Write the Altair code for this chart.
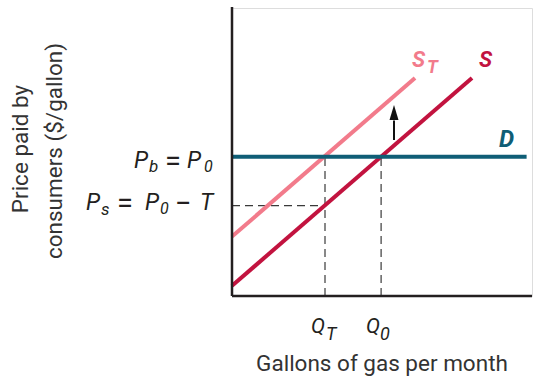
import altair as alt
import pandas as pd

# Market for gasoline with a per-gallon tax on sellers.
# Quantity runs 0-100, price runs 0-96 (arbitrary units).
P0 = 46.4          # price paid by buyers (P_b = P_0)
PS = 30.1          # price received by sellers (P_s = P_0 - T)
Q0 = 49.7          # quantity without the tax
QT = 31.0          # quantity with the tax

supply_q = [0, 80]
supply_p = [3.4, 72.7]
taxed_supply_q = [0, 61]
taxed_supply_p = [19.8, 72.7]
demand_q = [0, 98.2]
demand_p = [P0, P0]
arrow_q = [54, 54]
arrow_p = [52.0, 58.5]
arrow_head_p = 61.2

Q_MAX = 100
P_MAX = 96

LEFT, TOP = 232, 8
WIDTH, HEIGHT = 300, 288

INK = "#231f20"
PINK = "#f27b8b"
CRIMSON = "#c2133f"
TEAL = "#0f5e76"
EQ_FONT = "Roboto"
TITLE_FONT = "Roboto"

xs = alt.Scale(domain=[0, Q_MAX], nice=False, zero=False)
ys = alt.Scale(domain=[0, P_MAX], nice=False, zero=False)


def X(field="q"):
    return alt.X(f"{field}:Q", scale=xs, axis=None)


def Y(field="p"):
    return alt.Y(f"{field}:Q", scale=ys, axis=None)


def curve(qs, ps, color, width=4):
    df = pd.DataFrame({"q": qs, "p": ps})
    return alt.Chart(df).mark_line(color=color, strokeWidth=width, strokeCap="butt").encode(
        x=X(), y=Y(), order="q:Q")


# axes drawn as plain rules
y_axis = alt.Chart(pd.DataFrame({"q": [0], "p": [0], "p2": [96.3]})).mark_rule(
    color=INK, strokeWidth=2.5).encode(x=X(), y=Y(), y2="p2:Q")
x_axis = alt.Chart(pd.DataFrame({"q": [0], "q2": [Q_MAX], "p": [0]})).mark_rule(
    color=INK, strokeWidth=2.5).encode(x=X(), x2="q2:Q", y=Y())

# dashed guides
dash = dict(color="#3a3a3a", strokeWidth=1.2, strokeDash=[8, 5])
v_guides = alt.Chart(pd.DataFrame({"q": [QT, Q0], "p": [0, 0], "p2": [P0, P0]})).mark_rule(
    **dash).encode(x=X(), y=Y(), y2="p2:Q")
h_guide = alt.Chart(pd.DataFrame({"q": [0], "q2": [QT], "p": [PS]})).mark_rule(
    **dash).encode(x=X(), x2="q2:Q", y=Y())

demand = curve(demand_q, demand_p, TEAL)
supply = curve(supply_q, supply_p, CRIMSON)
taxed = curve(taxed_supply_q, taxed_supply_p, PINK)

arrow_shaft = alt.Chart(pd.DataFrame({"q": arrow_q, "p": arrow_p})).mark_line(
    color="#111111", strokeWidth=2).encode(x=X(), y=Y())
arrow_head = alt.Chart(pd.DataFrame({"q": [arrow_q[0]], "p": [arrow_head_p]})).mark_point(
    shape="M0,-1L-0.6,1L0.6,1Z", size=225, filled=True, opacity=1, color="#111111").encode(
    x=X(), y=Y())


def piece(txt, x_px, y_px, size, color=INK, italic=True, bold=False, font=EQ_FONT,
          align="left", angle=0, baseline="alphabetic"):
    props = dict(align=align, baseline=baseline, fontSize=size, font=font,
                 fontStyle="italic" if italic else "normal",
                 fontWeight="bold" if bold else "normal", color=color)
    if angle:
        props["angle"] = angle
    return alt.Chart(pd.DataFrame({"t": [txt]})).mark_text(**props).encode(
        x=alt.value(x_px - LEFT), y=alt.value(y_px - TOP), text="t:N")


texts = [
    # P_b = P_0
    piece("P", 134, 168, 23),
    piece("b", 149, 172, 17),
    piece("=", 165, 170.5, 29, italic=False),
    piece("P", 187, 168, 23),
    piece("0", 204, 172, 16),
    # P_s = P_0 - T
    piece("P", 86, 210, 23),
    piece("s", 101, 215, 17),
    piece("=", 117, 212.5, 29, italic=False),
    piece("P", 145, 210, 23),
    piece("0", 160, 214, 16),
    piece("\u2212", 175, 212.5, 29, italic=False),
    piece("T", 200, 210, 23),
    # Q_T, Q_0
    piece("Q", 311, 333, 21),
    piece("T", 326, 340, 18),
    piece("Q", 366, 333, 21),
    piece("0", 380, 340, 18),
    # curve labels
    piece("S", 412, 67, 22, color=PINK, bold=True),
    piece("T", 427, 73, 18, color=PINK, bold=True),
    piece("S", 479, 67, 22, color=CRIMSON, bold=True),
    piece("D", 499, 147, 24, color=TEAL, bold=True),
    # axis titles
    piece("Gallons of gas per month", 382, 371, 22.5, italic=False, font=TITLE_FONT,
          align="center", color="#333333"),
    piece("Price paid by", 21, 149, 22.5, italic=False, font=TITLE_FONT, align="center",
          angle=270, baseline="middle", color="#333333"),
    piece("consumers ($/gallon)", 55, 151, 22.5, italic=False, font=TITLE_FONT, align="center",
          angle=270, baseline="middle", color="#333333"),
]

chart = alt.layer(
    v_guides, h_guide, taxed, supply, demand, y_axis, x_axis, arrow_shaft, arrow_head, *texts
).properties(
    width=WIDTH, height=HEIGHT,
    padding={"left": LEFT, "top": TOP, "right": 534 - LEFT - WIDTH, "bottom": 379 - TOP - HEIGHT},
    autosize="none",
).configure_view(stroke=None).configure(background="white")

chart.save("out.html", embed_options={"renderer": "svg", "actions": False})
